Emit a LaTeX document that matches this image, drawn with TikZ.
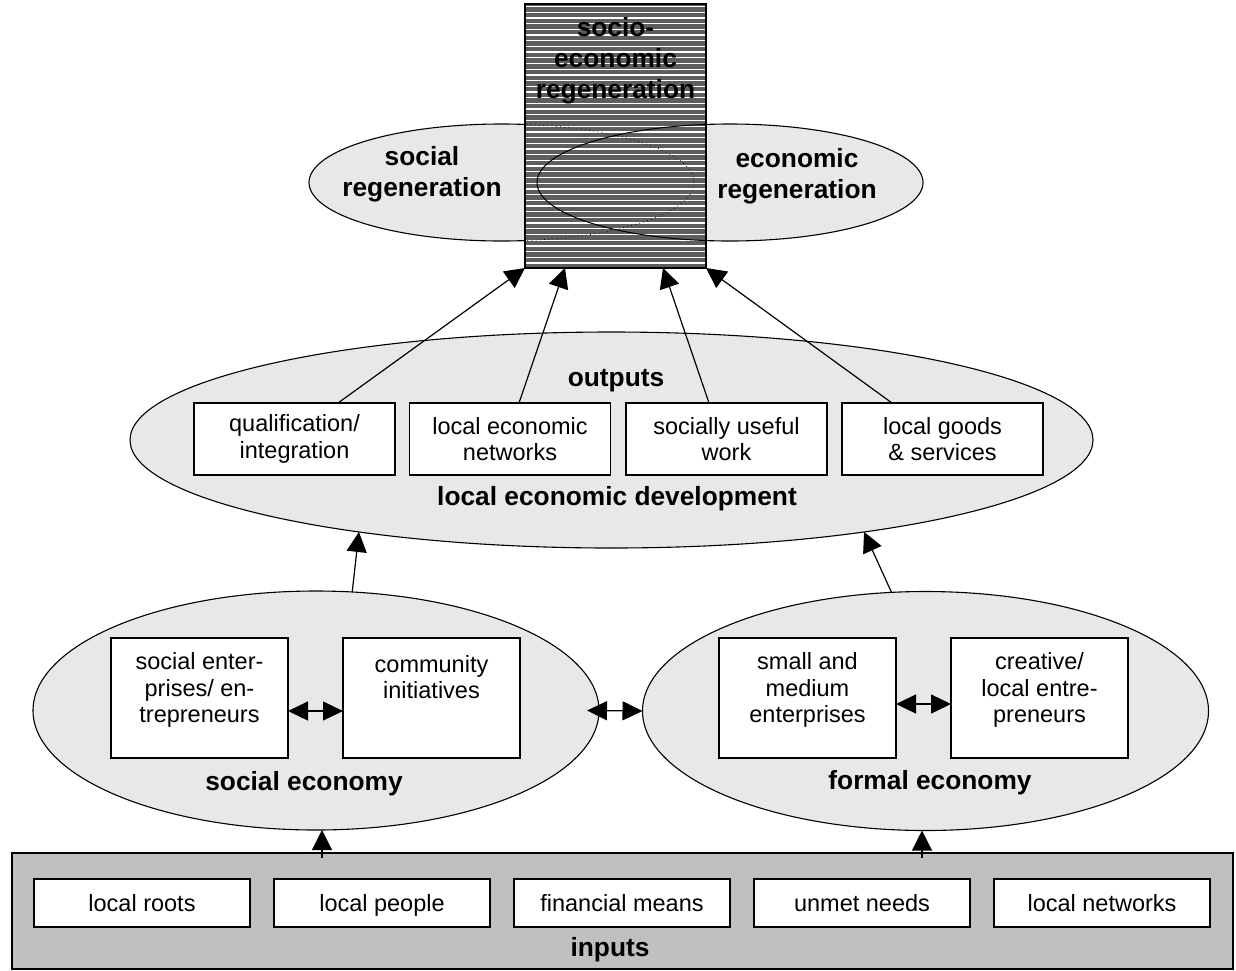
\documentclass[tikz,border=0pt]{standalone}
\usepackage{fontspec}
\setmainfont{Liberation Sans}
\usetikzlibrary{shapes.geometric,arrows.meta,calc}
\definecolor{shade}{HTML}{E8E8E8}
\definecolor{inputgray}{HTML}{C0C0C0}
\definecolor{stripe}{HTML}{5E5E5E}
\begin{document}
\begin{tikzpicture}[x=1pt,y=-1pt,
  every node/.style={inner sep=0pt, outer sep=0pt},
  oval/.style={ellipse, draw=black, line width=1.1pt, fill=shade},
  whitebox/.style={draw=black, line width=1.2pt, fill=white},
  boxtxt/.style={align=center, font=\fontsize{23.5}{26.5}\selectfont},
  linetxt/.style={font=\fontsize{23.5}{26.5}\selectfont, text height=17pt, text depth=0pt},
  headtxt/.style={align=center, font=\bfseries\fontsize{26.3}{31}\selectfont},
  arr/.style={line width=1.2pt, -{Triangle[length=20pt,width=20pt]}},
  dbl/.style={line width=1.2pt, {Triangle[length=20pt,width=19pt]}-{Triangle[length=20pt,width=19pt]}},
]
\useasboundingbox (0,0) rectangle (1236,970);

% --- regeneration ovals ---
\node[oval, minimum width=385pt, minimum height=117pt] (sr) at (501.5,182.5) {};
\node[oval, minimum width=386pt, minimum height=117pt] (er) at (730,182.5) {};
\node[headtxt] (srt) at (422,174) {social\\regeneration};
\node[headtxt] (ert) at (797,176) {economic\\regeneration};

% --- striped socio-economic column ---
\node[fill=stripe, minimum width=181pt, minimum height=264pt] (ser) at (615.5,136) {};
\begin{scope}
  \clip (ser.south west) rectangle (ser.north east);
  \foreach \k in {0,...,46}
    \draw[white, line width=1.3pt] (520,6.5+\k*5.7) -- (712,6.5+\k*5.7);
  \draw[black, line width=1pt] (er.center) ellipse [x radius=193, y radius=58.5];
  \draw[black, line width=0.8pt, dash pattern=on 0.7pt off 3.5pt]
    (sr.center) ellipse [x radius=192.5, y radius=58.5];
\end{scope}
\draw[line width=1.1pt] (ser.south west) rectangle (ser.north east);
\node[headtxt] (sert) at (615.5,61) {socio-\\economic\\regeneration};

% --- local economic development ---
\node[oval, minimum width=963pt, minimum height=216pt] (led) at (611.5,440) {};
\node[headtxt] (outl) at (616,381) {outputs};
\node[headtxt] (ledl) at (617,499) {local economic development};
\node[whitebox, boxtxt, minimum width=201pt, minimum height=72pt] (o1) at (294.5,439) {qualification/\\integration};
\node[whitebox, boxtxt, minimum width=201pt, minimum height=72pt] (o2) at (510,439) {local economic\\networks};
\node[whitebox, boxtxt, minimum width=201pt, minimum height=72pt] (o3) at (726.5,439) {socially useful\\work};
\node[whitebox, boxtxt, minimum width=201pt, minimum height=72pt] (o4) at (942.5,439) {local goods\\\& services};

% --- social and formal economy ---
\node[oval, minimum width=566pt, minimum height=239pt] (se) at (316,710.5) {};
\node[oval, minimum width=566pt, minimum height=239pt] (fe) at (925.5,711) {};

\node[whitebox, minimum width=177pt, minimum height=120pt] (s1) at (199.5,698) {};
\node[whitebox, minimum width=177pt, minimum height=120pt] (s2) at (431.5,698) {};
\node[whitebox, minimum width=177pt, minimum height=120pt] (f1) at (807.5,698) {};
\node[whitebox, minimum width=177pt, minimum height=120pt] (f2) at (1039.5,698) {};
\node[boxtxt] (s1t) at (199.5,690) {social enter-\\prises/ en-\\trepreneurs};
\node[boxtxt] (s2t) at (431.5,677) {community\\initiatives};
\node[boxtxt] (f1t) at (807.5,690) {small and\\medium\\enterprises};
\node[boxtxt] (f2t) at (1039.5,690) {creative/\\local entre-\\preneurs};
\node[headtxt] (sel) at (304,784) {social economy};
\node[headtxt] (fel) at (930,783) {formal economy};

% --- inputs ---
\node[draw=black, line width=1.1pt, fill=inputgray, minimum width=1221pt, minimum height=116pt] (inp) at (622.5,911) {};
\node[headtxt] (inpl) at (610,950) {inputs};
\node[whitebox, linetxt, minimum width=216pt, minimum height=48pt] (i1) at (142,903) {local roots};
\node[whitebox, linetxt, minimum width=216pt, minimum height=48pt] (i2) at (382,903) {local people};
\node[whitebox, linetxt, minimum width=216pt, minimum height=48pt] (i3) at (622,903) {financial means};
\node[whitebox, linetxt, minimum width=216pt, minimum height=48pt] (i4) at (862,903) {unmet needs};
\node[whitebox, linetxt, minimum width=216pt, minimum height=48pt] (i5) at (1102,903) {local networks};

% --- connectors ---
\coordinate (p1) at (322,858);
\coordinate (p2) at (922,858);
\draw[arr] (p1) -- (p1 |- se.south);
\draw[arr] (p2) -- (p2 |- fe.south);
\draw[arr] (se.73.5) -- (led.200.6);
\draw[arr] (fe.106.7) -- (led.340.9);
\draw[arr] ([xshift=43.5pt]o1.north) -- (ser.south west);
\draw[arr] ([xshift=9pt]o2.north) -- ([xshift=-50.5pt]ser.south);
\draw[arr] ([xshift=-17.5pt]o3.north) -- ([xshift=47.5pt]ser.south);
\draw[arr] ([xshift=-50.5pt]o4.north) -- (ser.south east);

\draw[dbl] ([yshift=-13pt]s1.east) -- ([yshift=-13pt]s2.west);
\draw[dbl] ([yshift=-6pt]f1.east) -- ([yshift=-6pt]f2.west);
\draw[dbl] ([xshift=-12pt]se.east) -- (fe.west);
\end{tikzpicture}
\end{document}
